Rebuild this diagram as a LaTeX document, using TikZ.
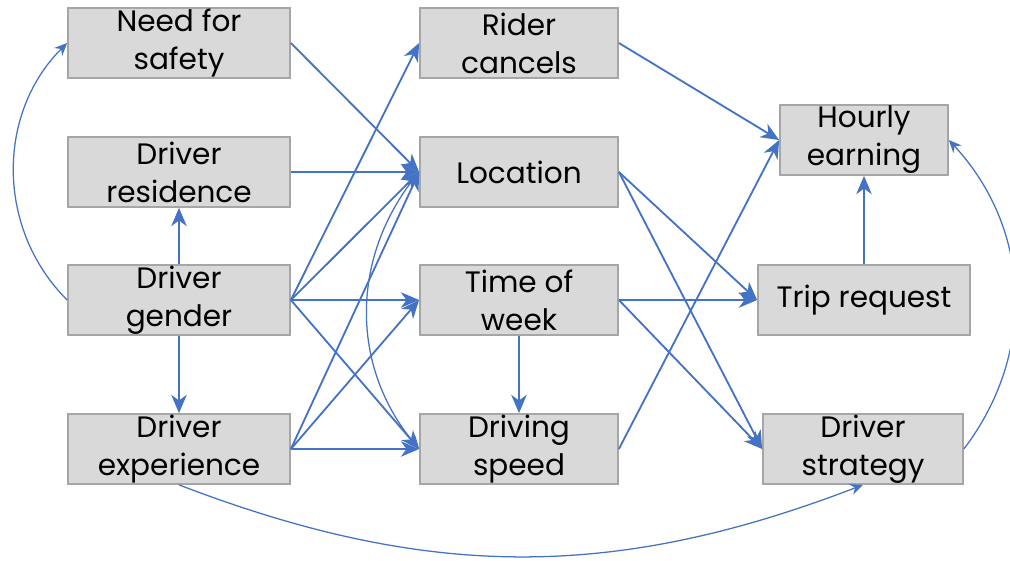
\documentclass[tikz,border=0pt]{standalone}
\usepackage{fontspec}
\setmainfont{Poppins}
\usetikzlibrary{arrows.meta}
\definecolor{linkblue}{HTML}{4472C4}
\definecolor{boxgray}{HTML}{D9D9D9}
\definecolor{edgegray}{HTML}{A6A6A6}

\begin{document}
\begin{tikzpicture}[x=0.025cm,y=-0.025cm,
  var/.style={draw=edgegray,fill=boxgray,line width=1.2pt,align=center,inner sep=0pt,
    font=\fontsize{21}{27}\selectfont,minimum height=1.75cm},
  link/.style={linkblue,line width=1.3pt,-{Stealth[length=13pt,width=11pt,inset=4pt]}},
  curve/.style={linkblue,line width=0.9pt,-{Stealth[length=9pt,width=8pt,inset=3pt]}}]
\useasboundingbox (0,0) rectangle (1010,560);
% left column
\node[var,minimum width=5.55cm] (safety) at (179.000,43.000) {Need for\\safety};
\node[var,minimum width=5.55cm] (residence) at (179.000,172.000) {Driver\\residence};
\node[var,minimum width=5.55cm] (gender) at (179.000,300.000) {Driver\\gender};
\node[var,minimum width=5.55cm] (experience) at (179.000,449.000) {Driver\\experience};
% middle column
\node[var,minimum width=4.95cm] (cancels) at (519.000,43.000) {Rider\\cancels};
\node[var,minimum width=4.95cm] (location) at (519.000,172.000) {Location};
\node[var,minimum width=4.95cm] (week) at (519.000,300.000) {Time of\\week};
\node[var,minimum width=4.95cm] (speed) at (519.000,449.000) {Driving\\speed};
% right column
\node[var,minimum width=4.2cm] (earning) at (864.000,140.000) {Hourly\\earning};
\node[var,minimum width=5.3cm] (trip) at (864.000,300.000) {Trip request};
\node[var,minimum width=5.0cm] (strategy) at (863.000,449.000) {Driver\\strategy};
% links
\draw[link] (gender) -- (residence);
\draw[link] (gender) -- (experience);
\draw[link] (safety.east) -- (location.west);
\draw[link] (residence.east) -- (location.west);
\draw[link] (gender.east) -- (cancels.west);
\draw[link] (gender.east) -- (location.west);
\draw[link] (gender.east) -- (week.west);
\draw[link] (gender.east) -- (speed.west);
\draw[link] (experience.east) -- (location.west);
\draw[link] (experience.east) -- (week.west);
\draw[link] (experience.east) -- (speed.west);
\draw[link] (week) -- (speed);
\draw[link] (cancels.east) -- (earning.west);
\draw[link] (speed.east) -- (earning.west);
\draw[link] (location.east) -- (trip.west);
\draw[link] (location.east) -- (strategy.west);
\draw[link] (week.east) -- (trip.west);
\draw[link] (week.east) -- (strategy.west);
\draw[link] (trip) -- (earning);
% curved links
\draw[curve] (gender.west) to[bend left=45] (safety.west);
\draw[curve] (location.west) to[bend right=40] (speed.west);
\draw[curve] (strategy.east) to[bend right=40] (earning.east);
\draw[curve] (experience.south) to[bend right=21] (strategy.south);
\end{tikzpicture}
\end{document}
